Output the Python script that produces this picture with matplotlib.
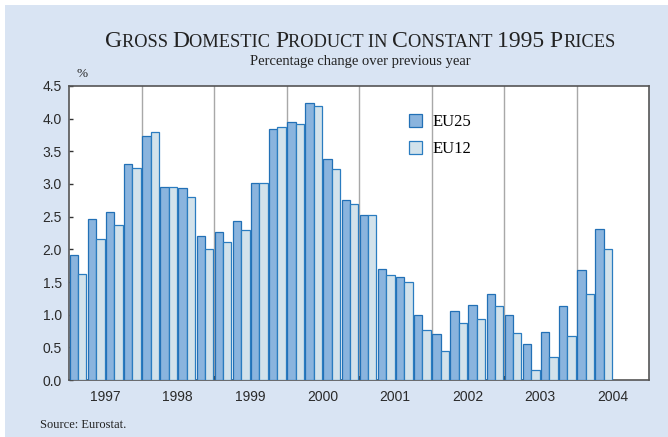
import numpy as np
import matplotlib
matplotlib.use("Agg")
import matplotlib.pyplot as plt
from matplotlib.patches import Rectangle

# Quarterly GDP growth, % change over previous year
eu25 = [1.91, 2.47, 2.57, 3.30,
        3.73, 2.95, 2.94, 2.20,
        2.27, 2.43, 3.01, 3.84,
        3.95, 4.24, 3.39, 2.75,
        2.53, 1.70, 1.57, 0.99,
        0.71, 1.05, 1.15, 1.32,
        1.00, 0.55, 0.74, 1.13,
        1.69, 2.31]
eu12 = [1.62, 2.16, 2.37, 3.24,
        3.79, 2.96, 2.80, 2.01,
        2.11, 2.29, 3.01, 3.87,
        3.92, 4.19, 3.23, 2.69,
        2.53, 1.61, 1.50, 0.77,
        0.45, 0.87, 0.93, 1.13,
        0.72, 0.15, 0.35, 0.68,
        1.32, 2.01]
years = ["1997", "1998", "1999", "2000", "2001", "2002", "2003", "2004"]

bg = "#d9e4f3"
c25, e25 = "#8ab4de", "#2270b6"
c12, e12 = "#d2e2eb", "#2a7cc0"

fig = plt.figure(figsize=(6.68, 4.37), dpi=100, facecolor="white")
fig.patches.append(Rectangle((5 / 668, 0), 1, 1 - 5 / 437, transform=fig.transFigure,
                             facecolor=bg, edgecolor="none", zorder=-10))

ax = fig.add_axes([69 / 668, 1 - 380 / 437, 580 / 668, 294 / 437])
ax.set_facecolor("white")

x = np.arange(len(eu25))
w = 0.46
ax.bar(x - w / 2, eu25, width=w, color=c25, edgecolor=e25, linewidth=0.9, label="EU25", zorder=3)
ax.bar(x + w / 2, eu12, width=w, color=c12, edgecolor=e12, linewidth=0.9, label="EU12", zorder=3)

n_groups = len(years)
for k in range(1, n_groups):
    ax.axvline(4 * k - 0.5, color="#a8a8a8", linewidth=1.0, zorder=1)

ax.set_xlim(-0.5, 4 * n_groups - 0.5)
ax.set_ylim(0, 4.5)
ax.set_yticks(np.arange(0, 4.51, 0.5))
ax.set_yticklabels([f"{v:.1f}" for v in np.arange(0, 4.51, 0.5)],
                   fontfamily="Liberation Sans", fontsize=10, color="#2a2a2a")
ax.set_xticks([4 * k + 1.5 for k in range(n_groups)])
ax.set_xticklabels(years, fontfamily="Liberation Sans", fontsize=10, color="#2a2a2a")
ax.tick_params(axis="x", length=0, pad=7)
ax.tick_params(axis="y", direction="in", length=3, width=1, color="#333333", pad=5)
ax.set_xticks([4 * k - 0.5 for k in range(1, n_groups)], minor=True)
ax.tick_params(axis="x", which="minor", direction="in", length=3, width=1.2, color="#333333")
for s in ax.spines.values():
    s.set_color("#555555")
    s.set_linewidth(1.2)

leg = ax.legend(loc="upper left", bbox_to_anchor=(0.56, 0.955), frameon=False,
                prop={"family": "Liberation Serif", "size": 12},
                handlelength=0.8, handleheight=0.8, handletextpad=0.6, labelspacing=0.65)

# small-caps title built from pieces
big, small = 17, 13.2
pieces = [("G", big), ("ROSS ", small), ("D", big), ("OMESTIC ", small),
          ("P", big), ("RODUCT IN ", small), ("C", big), ("ONSTANT ", small),
          ("1995 P", big), ("RICES", small)]
fig.canvas.draw()
r = fig.canvas.get_renderer()
widths = []
for s, size in pieces:
    t = fig.text(0, 0, s, fontsize=size, fontfamily="Liberation Serif")
    widths.append(t.get_window_extent(r).width)
    t.remove()
total = sum(widths)
xpos = 360 - total / 2
for (s, size), wd in zip(pieces, widths):
    fig.text(xpos / 668, 1 - 47 / 437, s, fontsize=size, fontfamily="Liberation Serif",
             color="#222222", va="baseline")
    xpos += wd

fig.text(360 / 668, 1 - 61 / 437, "Percentage change over previous year", ha="center", va="center",
         fontsize=10.5, fontfamily="Liberation Serif", color="#222222")
fig.text(82 / 668, 1 - 74 / 437, "%", ha="center", va="center",
         fontsize=9.5, fontfamily="Liberation Serif", color="#222222")
fig.text(40 / 668, 1 - 425 / 437, "Source: Eurostat.", ha="left", va="center",
         fontsize=9, fontfamily="Liberation Serif", color="#222222")

fig.savefig("out.png", dpi=100, facecolor=fig.get_facecolor())
